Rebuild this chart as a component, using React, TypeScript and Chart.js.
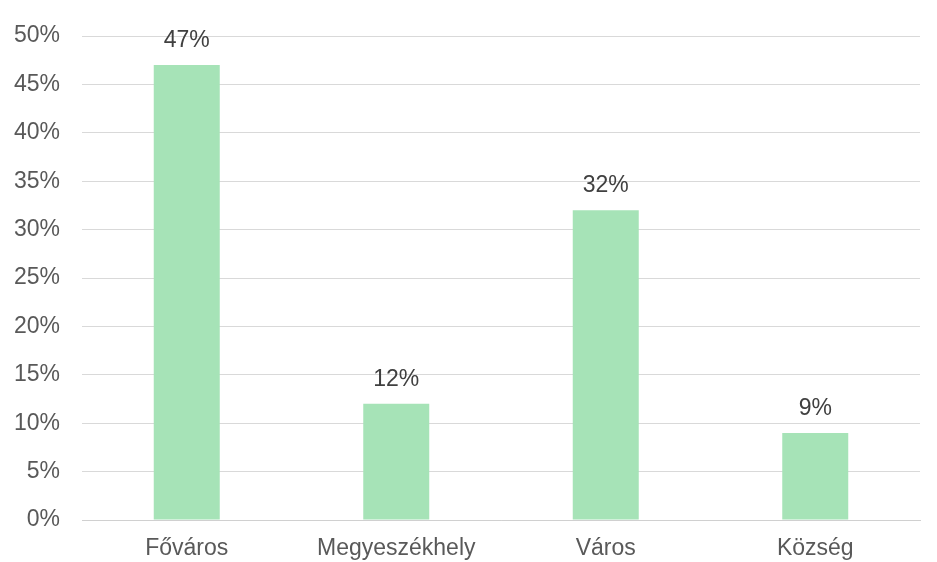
import React, { useEffect, useRef } from "react";
import { Chart, registerables } from "chart.js";

Chart.register(...registerables);

const categories = ["Főváros", "Megyeszékhely", "Város", "Község"];
const shares = [47, 12, 32, 9];
const yTicks = [0, 5, 10, 15, 20, 25, 30, 35, 40, 45, 50];

const FONT = "'Liberation Sans', Arial, Helvetica, sans-serif";

const valueLabels = {
  id: "valueLabels",
  afterDatasetsDraw(chart: any) {
    const ctx = chart.ctx;
    const meta = chart.getDatasetMeta(0);
    ctx.save();
    ctx.font = `23px ${FONT}`;
    ctx.fillStyle = "#404040";
    ctx.textAlign = "center";
    ctx.textBaseline = "alphabetic";
    meta.data.forEach((bar: any, i: number) => {
      ctx.fillText(`${shares[i]}%`, bar.x, bar.y - 18);
    });
    ctx.restore();
  },
};

export default function App() {
  const ref = useRef<HTMLCanvasElement | null>(null);

  useEffect(() => {
    if (!ref.current) return;
    const chart = new Chart(ref.current, {
      type: "bar",
      data: {
        labels: categories,
        datasets: [
          {
            data: shares,
            backgroundColor: "#a6e3b7",
            borderWidth: 0,
            barPercentage: 0.63,
            categoryPercentage: 0.5,
          },
        ],
      },
      options: {
        animation: false,
        responsive: false,
        maintainAspectRatio: false,
        layout: { padding: { top: 36, right: 17, left: 0, bottom: 0 } },
        plugins: {
          legend: { display: false },
          tooltip: { enabled: false },
        },
        scales: {
          x: {
            grid: { display: false, drawTicks: false },
            border: { display: true, color: "#d0d0d0", width: 1 },
            ticks: {
              color: "#595959",
              font: { family: FONT, size: 23 },
              padding: 15,
            },
            afterFit(scale: any) {
              scale.height = 42;
            },
          },
          y: {
            min: 0,
            max: 50,
            afterBuildTicks(scale: any) {
              scale.ticks = yTicks.map((v) => ({ value: v }));
            },
            grid: { color: "#d9d9d9", lineWidth: 1, drawTicks: false },
            border: { display: false },
            ticks: {
              color: "#595959",
              font: { family: FONT, size: 23 },
              padding: 22,
              callback: (v: any) => `${v}%`,
            },
            afterFit(scale: any) {
              scale.width = 82;
            },
          },
        },
      },
      plugins: [valueLabels],
    });
    return () => chart.destroy();
  }, []);

  return (
    <div style={{ position: "fixed", left: 0, top: 0, width: 937, height: 562, background: "#fff" }}>
      <canvas ref={ref} width={937} height={562} style={{ width: 937, height: 562 }} />
    </div>
  );
}
